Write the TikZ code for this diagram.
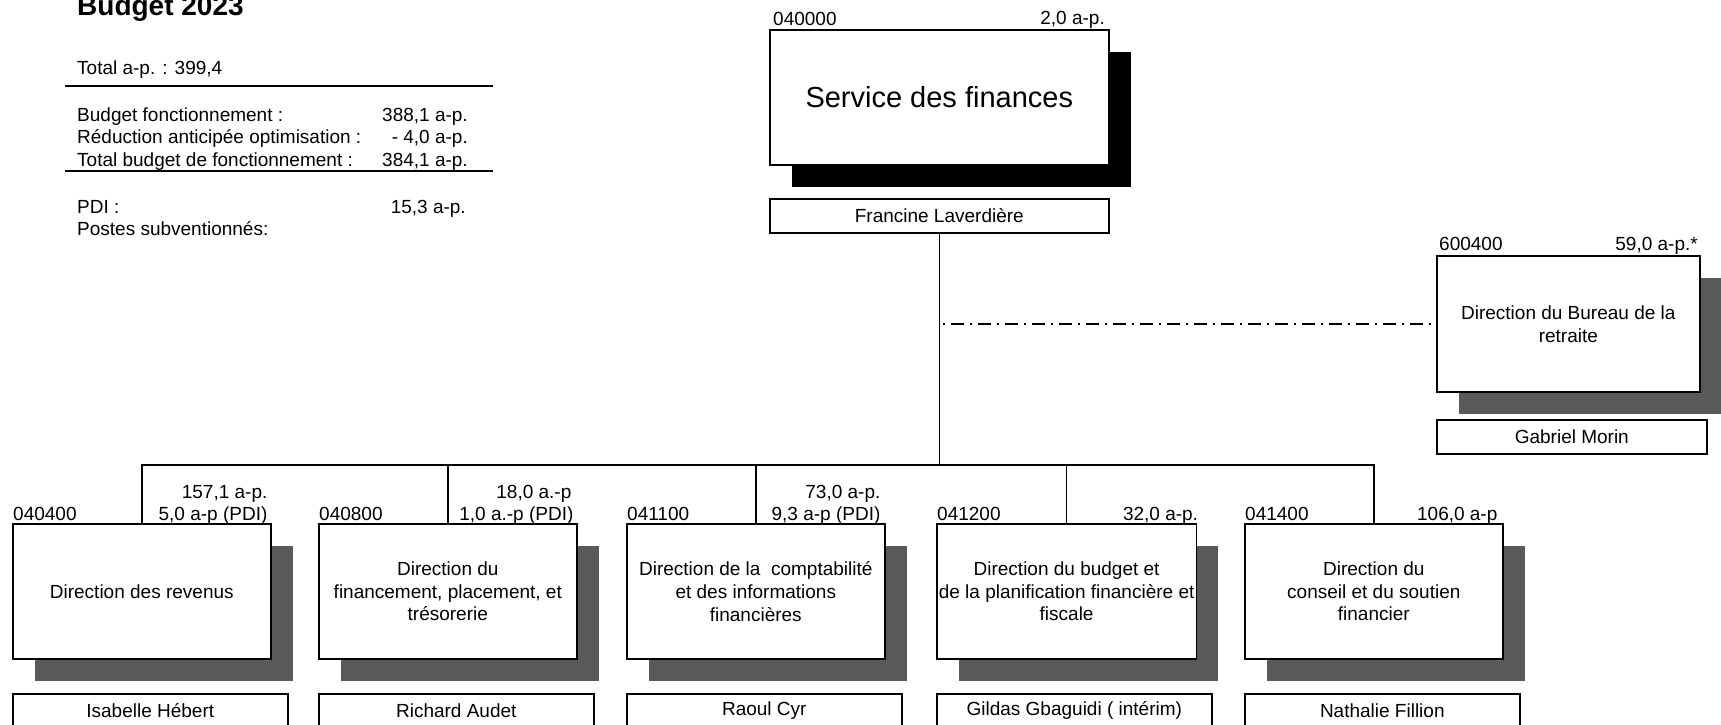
\documentclass[tikz,border=0pt]{standalone}
\usepackage{fontspec}
\setmainfont{Liberation Sans}
\usetikzlibrary{shadows}
\definecolor{shade}{HTML}{595959}
\tikzset{
  txt/.style={font=\fontsize{19}{22.5}\selectfont, inner sep=0pt},
  orgbox/.style={draw=black, line width=1.6pt, fill=white, inner sep=2pt, align=center,
    font=\fontsize{19}{22.8}\selectfont, anchor=north west,
    drop shadow={shadow xshift=22pt, shadow yshift=-22pt, fill=#1, opacity=1, draw=none}},
  orgbox/.default=shade,
  subbox/.style={orgbox, minimum width=258pt, minimum height=135pt},
  namebox/.style={draw=black, line width=1.6pt, fill=white, anchor=north west,
    minimum height=34pt, inner sep=0pt, font=\fontsize{19}{22.5}\selectfont},
  conn/.style={draw=black, line width=1.4pt},
  dashdotline/.style={draw=black, line width=1.4pt, dash pattern=on 2pt off 6pt on 13pt off 6pt},
  rule/.style={draw=black, line width=1.6pt}
}
\begin{document}
\begin{tikzpicture}[x=1pt,y=-1pt]
\useasboundingbox (0,0) rectangle (1721,724);
\clip (0,0) rectangle (1721,724);

% ---- summary block
\node[anchor=base west, inner sep=0pt, font=\bfseries\fontsize{28}{30}\selectfont] (title) at (77,15) {Budget 2023};
\node[txt, anchor=base west] (tot) at (77,74) {Total a-p. : 399,4};
\draw[rule] (65,86) -- (493,86);
\node[txt, anchor=base west] (bf) at (77,121) {Budget fonctionnement :};
\node[txt, anchor=base east] (bfv) at (468,121) {388,1 a-p.};
\node[txt, anchor=base west] (ra) at (77,143.5) {Réduction anticipée optimisation :};
\node[txt, anchor=base east] (rav) at (468,143.5) {- 4,0 a-p.};
\node[txt, anchor=base west] (tb) at (77,166) {Total budget de fonctionnement :};
\node[txt, anchor=base east] (tbv) at (468,166) {384,1 a-p.};
\draw[rule] (65,171) -- (493,171);
\node[txt, anchor=base west] (pdi) at (77,213) {PDI :};
\node[txt, anchor=base east] (pdiv) at (466,213) {15,3 a-p.};
\node[txt, anchor=base west] (ps) at (77,235) {Postes subventionnés:};

% ---- top
\node[orgbox=black, minimum width=339pt, minimum height=135pt, font=\fontsize{29}{32}\selectfont] (sf) at (769,29) {Service des finances};
\node[txt, anchor=base west] (c0) at (773,25) {040000};
\node[txt, anchor=base east] (v0) at (1105,24) {2,0 a-p.};
\node[namebox, minimum width=339pt] (fl) at (769,198) {Francine Laverdière};

% ---- right
\node[orgbox, minimum width=263pt, minimum height=136pt] (rb) at (1436,255) {Direction du Bureau de la\\retraite};
\node[txt, anchor=base west] (c6) at (1439,250) {600400};
\node[txt, anchor=base east] (v6) at (1698,250) {59,0 a-p.*};
\node[namebox, minimum width=270pt] (gm) at (1436,419) {Gabriel Morin};

% ---- bottom row
\node[subbox] (b1) at (12,523) {Direction des revenus};
\node[subbox] (b2) at (318,523) {Direction du\\financement, placement, et\\trésorerie};
\node[subbox] (b3) at (626,523) {Direction de la\ \ comptabilité\\et des informations\\financières};
\node[subbox] (b4) at (936,523) {Direction du budget et\\de la planification financière et\\fiscale};
\node[subbox] (b5) at (1244,523) {Direction du\\conseil et du soutien\\financier};

\node[namebox, minimum width=275pt] (n1) at (12,693) {Isabelle Hébert};
\node[namebox, minimum width=275pt] (n2) at (318,693) {Richard Audet};
\node[namebox, minimum width=275pt] (n3) at (626,693) {Raoul Cyr};
\node[namebox, minimum width=275pt] (n4) at (936,693) {Gildas Gbaguidi ( intérim)};
\node[namebox, minimum width=275pt] (n5) at (1244,693) {Nathalie Fillion};

% labels above bottom boxes
\node[txt, anchor=base west] (c1) at ([shift={(1pt,3pt)}]b1.north west) {040400};
\node[txt, anchor=base east] (v1a) at ([shift={(-4pt,25pt)}]b1.north east) {157,1 a-p.};
\node[txt, anchor=base east] (v1b) at ([shift={(-4pt,3pt)}]b1.north east) {5,0 a-p (PDI)};
\node[txt, anchor=base west] (c2) at ([shift={(1pt,3pt)}]b2.north west) {040800};
\node[txt, anchor=base east] (v2a) at ([shift={(-6pt,25pt)}]b2.north east) {18,0 a.-p};
\node[txt, anchor=base east] (v2b) at ([shift={(-4pt,3pt)}]b2.north east) {1,0 a.-p (PDI)};
\node[txt, anchor=base west] (c3) at ([shift={(1pt,3pt)}]b3.north west) {041100};
\node[txt, anchor=base east] (v3a) at ([shift={(-5pt,25pt)}]b3.north east) {73,0 a-p.};
\node[txt, anchor=base east] (v3b) at ([shift={(-5pt,3pt)}]b3.north east) {9,3 a-p (PDI)};
\node[txt, anchor=base west] (c4) at ([shift={(1pt,3pt)}]b4.north west) {041200};
\node[txt, anchor=base east] (v4) at ([shift={(1pt,3pt)}]b4.north east) {32,0 a-p.};
\node[txt, anchor=base west] (c5) at ([shift={(1pt,3pt)}]b5.north west) {041400};
\node[txt, anchor=base east] (v5) at ([shift={(-6pt,3pt)}]b5.north east) {106,0 a-p};

% ---- connectors
\coordinate (busy) at (0,465);
\coordinate (jm) at (fl.south |- busy);
\coordinate (j1) at (b1.north |- busy);
\coordinate (j2) at (b2.north |- busy);
\coordinate (j3) at (b3.north |- busy);
\coordinate (j4) at (b4.north |- busy);
\coordinate (j5) at (b5.north |- busy);
\coordinate (jd) at (fl.south |- rb.west);
\draw[conn] (fl.south) -- (jm);
\draw[conn] (b1.north) -- (j1) -- (j5) -- (b5.north);
\draw[conn] (j2) -- (b2.north);
\draw[conn] (j3) -- (b3.north);
\draw[conn] (j4) -- (b4.north);
\draw[dashdotline] ([xshift=4pt]jd) -- (rb.west);
\end{tikzpicture}
\end{document}
